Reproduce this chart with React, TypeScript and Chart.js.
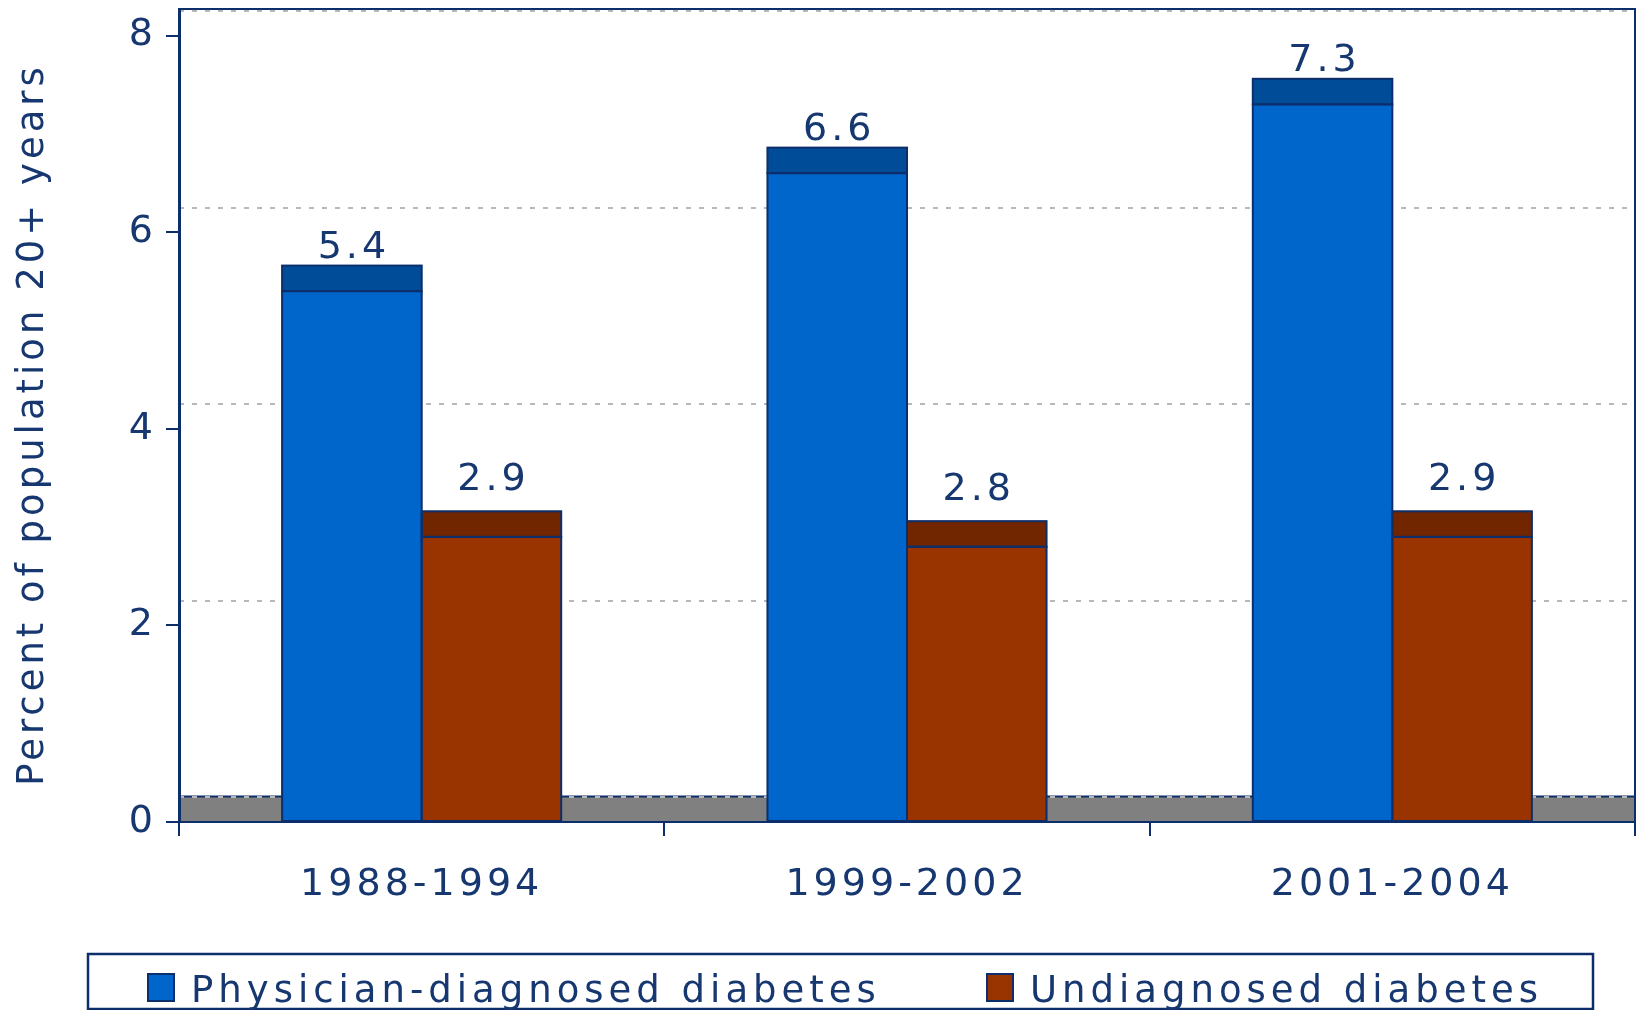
import React, { useEffect, useRef } from 'react';
import { Chart, registerables } from 'chart.js';

Chart.register(...registerables);

// ---------- data ----------
const CATEGORIES = ['1988-1994', '1999-2002', '2001-2004'];
const PHYSICIAN = [5.4, 6.6, 7.3];
const UNDIAGNOSED = [2.9, 2.8, 2.9];
const SERIES_LABELS = ['Physician-diagnosed diabetes', 'Undiagnosed diabetes'];
const Y_TICKS = [0, 2, 4, 6, 8];
const Y_MAX = 8.27;
const AXIS_TITLE = 'Percent of population 20+ years';

// ---------- style ----------
const DEPTH = 0.26; // pseudo-3D depth of caps / floor
const GRID_OFFSET = 0.25;
const NAVY = '#0c2f6b';
const TEXT = '#16376f';
const FONT = '"DejaVu Sans", Verdana, sans-serif';
const BLUE = '#0066cc';
const BLUE_CAP = '#004c99';
const RUST = '#993300';
const RUST_CAP = '#722600';
const FLOOR = '#808080';
const GRID = '#b8b8b8';

function zeroPad(scale: any) {
  scale.paddingTop = 0;
  scale.paddingBottom = 0;
  scale.paddingLeft = 0;
  scale.paddingRight = 0;
}

export default function App() {
  const ref = useRef<HTMLCanvasElement | null>(null);

  useEffect(() => {
    const canvas = ref.current;
    if (!canvas) return;

    const spacingPlugin = {
      id: 'spacing',
      beforeDraw(chart: any) {
        (chart.ctx as any).letterSpacing = '4px';
      },
    };

    const floorPlugin = {
      id: 'floor',
      beforeDraw(chart: any) {
        const { ctx, chartArea } = chart;
        const y = chart.scales.y;
        const y0 = y.getPixelForValue(0);
        const y1 = y.getPixelForValue(DEPTH);
        ctx.save();
        ctx.fillStyle = FLOOR;
        ctx.fillRect(chartArea.left, y1, chartArea.right - chartArea.left, y0 - y1);
        ctx.strokeStyle = NAVY;
        ctx.lineWidth = 2;
        ctx.beginPath();
        ctx.moveTo(chartArea.left, y1);
        ctx.lineTo(chartArea.right, y1);
        ctx.stroke();
        ctx.restore();
      },
    };

    const frameAndLabels = {
      id: 'frameAndLabels',
      afterDatasetsDraw(chart: any) {
        const { ctx, chartArea } = chart;
        ctx.save();
        // bar outlines
        ctx.strokeStyle = NAVY;
        ctx.lineWidth = 2;
        chart.data.datasets.forEach((_ds: any, di: number) => {
          const meta = chart.getDatasetMeta(di);
          meta.data.forEach((el: any) => {
            const { x, y, base, width } = el.getProps(['x', 'y', 'base', 'width'], true);
            ctx.strokeRect(x - width / 2, y, width, base - y);
          });
        });
        // top / right frame
        ctx.lineWidth = 2;
        ctx.beginPath();
        ctx.moveTo(chartArea.left, chartArea.top);
        ctx.lineTo(chartArea.right, chartArea.top);
        ctx.lineTo(chartArea.right, chartArea.bottom);
        ctx.stroke();
        // value labels
        ctx.fillStyle = TEXT;
        ctx.font = `38px ${FONT}`;
        (ctx as any).letterSpacing = '4px';
        ctx.textAlign = 'center';
        ctx.textBaseline = 'alphabetic';
        chart.data.datasets.forEach((ds: any, di: number) => {
          if (ds.capOf === undefined) return;
          const src = chart.data.datasets[ds.capOf];
          const meta = chart.getDatasetMeta(di);
          meta.data.forEach((el: any, i: number) => {
            ctx.fillText(src.data[i].toFixed(1), el.x + 2, el.y - ds.labelGap);
          });
        });
        // y-axis title
        const ys = chart.scales.y;
        ctx.save();
        ctx.translate(33.5, (ys.top + ys.bottom) / 2 + 9);
        ctx.rotate(-Math.PI / 2);
        ctx.font = `37px ${FONT}`;
        ctx.textAlign = 'center';
        ctx.textBaseline = 'middle';
        ctx.fillText(AXIS_TITLE, 0, 0);
        ctx.restore();
        ctx.restore();
      },
    };

    const legendPlugin = {
      id: 'boxLegend',
      afterDraw(chart: any) {
        const { ctx } = chart;
        ctx.save();
        ctx.strokeStyle = NAVY;
        ctx.lineWidth = 2.5;
        ctx.strokeRect(88, 954, 1505, 55);
        const items = chart.data.datasets.filter((d: any) => d.legend);
        const swatchX = [147, 986];
        ctx.font = `37px ${FONT}`;
        (ctx as any).letterSpacing = '5px';
        ctx.textAlign = 'left';
        ctx.textBaseline = 'alphabetic';
        items.forEach((d: any, i: number) => {
          const x = swatchX[i];
          ctx.fillStyle = d.backgroundColor;
          ctx.fillRect(x, 973, 28, 29);
          ctx.strokeStyle = NAVY;
          ctx.lineWidth = 2;
          ctx.strokeRect(x + 1, 974, 26, 27);
          ctx.fillStyle = TEXT;
          ctx.fillText(d.label, x + 44, 1002);
        });
        ctx.restore();
      },
    };

    const capData = CATEGORIES.map(() => DEPTH);
    const barBase = { borderWidth: 0, inflateAmount: 0.5, borderSkipped: false };

    const chart = new Chart(canvas, {
      type: 'bar',
      data: {
        labels: CATEGORIES,
        datasets: [
          { ...barBase, label: SERIES_LABELS[0], legend: true, data: PHYSICIAN, stack: 'a', backgroundColor: BLUE } as any,
          { ...barBase, label: 'cap-a', capOf: 0, labelGap: 8, data: capData, stack: 'a', backgroundColor: BLUE_CAP } as any,
          { ...barBase, label: SERIES_LABELS[1], legend: true, data: UNDIAGNOSED, stack: 'b', backgroundColor: RUST } as any,
          { ...barBase, label: 'cap-b', capOf: 2, labelGap: 21, data: capData, stack: 'b', backgroundColor: RUST_CAP } as any,
        ],
      },
      options: {
        animation: false,
        responsive: false,
        devicePixelRatio: 1,
        categoryPercentage: 0.575,
        barPercentage: 1,
        layout: { padding: { top: 9, right: 4, left: 0, bottom: 0 } },
        plugins: {
          legend: { display: false },
          tooltip: { enabled: false },
        },
        scales: {
          x: {
            stacked: true,
            grid: {
              offset: true,
              drawOnChartArea: false,
              tickLength: 14,
              color: NAVY,
              lineWidth: 2,
            },
            border: { display: true, color: NAVY, width: 2 },
            ticks: {
              color: TEXT,
              font: { family: FONT, size: 38 },
              padding: 26,
              maxRotation: 0,
            },
            afterFit(scale: any) {
              scale.height = 188;
              zeroPad(scale);
            },
          },
          y: {
            stacked: true,
            min: 0,
            max: Y_MAX,
            afterBuildTicks(scale: any) {
              scale.ticks = Y_TICKS.map((v) => ({ value: v }));
            },
            afterFit(scale: any) {
              scale.width = 179;
              zeroPad(scale);
            },
            grid: {
              drawOnChartArea: false,
              tickLength: 13,
              color: NAVY,
              lineWidth: 2,
            },
            border: { display: true, color: NAVY, width: 3 },
            ticks: {
              color: TEXT,
              font: { family: FONT, size: 38 },
              padding: 9,
            },
            title: { display: false },
          },
          y2: {
            type: 'linear',
            position: 'left',
            min: 0,
            max: Y_MAX,
            afterBuildTicks(scale: any) {
              scale.ticks = Y_TICKS.map((v) => ({ value: v + GRID_OFFSET }));
            },
            afterFit(scale: any) {
              scale.width = 0;
              zeroPad(scale);
            },
            grid: {
              drawTicks: false,
              color: GRID,
              lineWidth: 2,
            },
            border: { display: false, dash: [5, 8] },
            ticks: { display: false },
          },
        },
      } as any,
      plugins: [spacingPlugin, floorPlugin, frameAndLabels, legendPlugin],
    });

    return () => chart.destroy();
  }, []);

  return (
    <div style={{ position: 'absolute', left: 0, top: 0, width: 1639, height: 1010, background: '#fff' }}>
      <canvas ref={ref} width={1639} height={1010} style={{ display: 'block' }} />
    </div>
  );
}
